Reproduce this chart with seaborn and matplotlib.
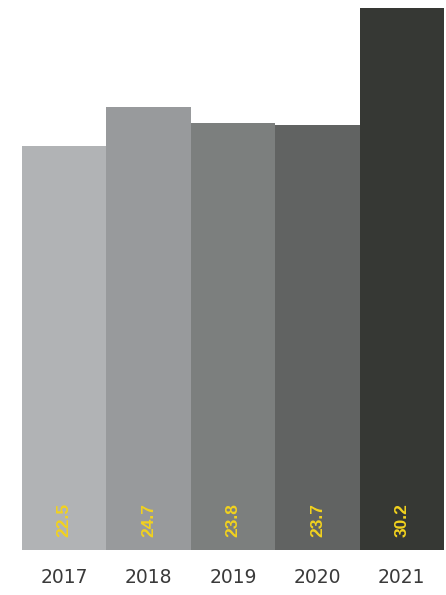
import matplotlib
matplotlib.use("Agg")
import matplotlib.pyplot as plt
import seaborn as sns
import pandas as pd

years = ["2017", "2018", "2019", "2020", "2021"]
values = [22.5, 24.7, 23.8, 23.7, 30.2]
bar_colors = ["#b1b3b5", "#989a9c", "#7c7f7e", "#616362", "#363834"]

sns.set_theme(style="white")
plt.rcParams["font.family"] = ["Liberation Sans", "DejaVu Sans"]

df = pd.DataFrame({"year": years, "value": values})

fig = plt.figure(figsize=(4.46, 5.95), dpi=100)
ax = fig.add_axes([22 / 446, 45 / 595, 422 / 446, 542 / 595])

sns.barplot(data=df, x="year", y="value", hue="year", palette=bar_colors,
            width=1.0, legend=False, ax=ax, saturation=1,
            linewidth=0, edgecolor="none")

ax.set_ylim(0, 30.2)
ax.set_xlim(-0.5, 4.5)
for s in ax.spines.values():
    s.set_visible(False)
ax.set_yticks([])
ax.set_xlabel("")
ax.set_ylabel("")
ax.tick_params(axis="x", length=0, pad=13, labelsize=13.5, labelcolor="#3a3a3a")
for lab in ax.get_xticklabels():
    lab.set_family(["DejaVu Sans"])

for i, v in enumerate(values):
    ax.annotate(f"{v}", xy=(i, 0), xytext=(0, 13), textcoords="offset pixels",
                rotation=90, ha="center", va="bottom", color="#f2d21e",
                fontsize=12.5, fontweight="bold")

fig.savefig("out.png", dpi=100)
